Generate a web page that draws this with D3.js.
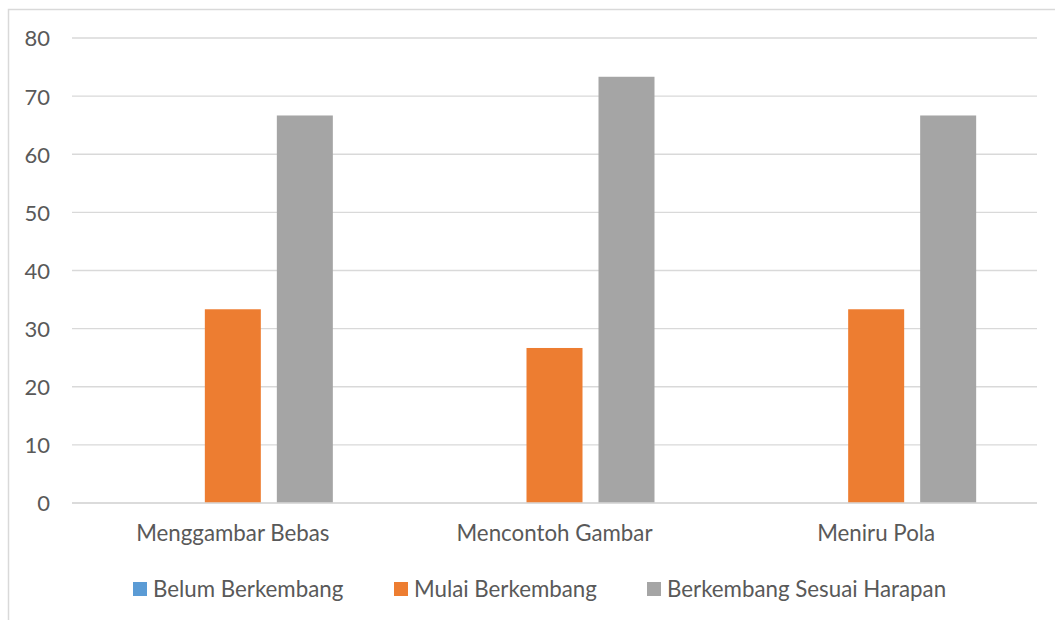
<!DOCTYPE html>
<html><head><meta charset="utf-8">
<script src="https://cdn.jsdelivr.net/npm/d3@7"></script>
<style>
html,body{margin:0;padding:0;background:#fff;}
svg{display:block;}
text{font-family:"Lato","Open Sans",sans-serif;fill:#595959;}
</style></head>
<body><svg id="c" width="1055" height="620"></svg>
<script>
const categories = ["Menggambar Bebas", "Mencontoh Gambar", "Meniru Pola"];
const seriesNames = ["Belum Berkembang", "Mulai Berkembang", "Berkembang Sesuai Harapan"];
const belumBerkembang = [0, 0, 0];
const mulaiBerkembang = [33.33, 26.67, 33.33];
const berkembangSesuaiHarapan = [66.67, 73.33, 66.67];
const yTicks = [0, 10, 20, 30, 40, 50, 60, 70, 80];
const colors = ["#5b9bd5", "#ed7d31", "#a5a5a5"];

const seriesValues = [belumBerkembang, mulaiBerkembang, berkembangSesuaiHarapan];
const svg = d3.select("#c");
const plotLeft = 72, plotRight = 1037, plotTop = 38, plotBottom = 503;

// outer border
svg.append("rect").attr("x", 8.5).attr("y", 9.5).attr("width", 1100).attr("height", 700)
  .attr("fill", "none").attr("stroke", "#d9d9d9").attr("stroke-width", 1.5);

const x0 = d3.scaleBand().domain(categories).range([plotLeft, plotRight]).paddingInner(0).paddingOuter(0);
const y = d3.scaleLinear().domain([0, 80]).range([plotBottom, plotTop]);

// gridlines
svg.append("g").selectAll("line").data(yTicks).join("line")
  .attr("x1", plotLeft).attr("x2", plotRight)
  .attr("y1", d => y(d)).attr("y2", d => y(d))
  .attr("stroke", "#d9d9d9").attr("stroke-width", 1.3);

// y axis labels
const yAxis = d3.axisLeft(y).tickValues(yTicks).tickSize(0).tickPadding(0);
const gy = svg.append("g").attr("transform", `translate(50,0)`).call(yAxis);
gy.select(".domain").remove();
gy.selectAll("text").attr("font-size", 22).style("font-family", "Lato, sans-serif").attr("fill", "#595959").attr("dy", "0.36em");

// bars
const groupWidth = 200;
const x1 = d3.scaleBand().domain(seriesNames).range([0, groupWidth]).paddingInner(16/72).paddingOuter(0);
const g = svg.append("g");
categories.forEach((cat, ci) => {
  const gx0 = x0(cat) + x0.bandwidth() / 2 - groupWidth / 2;
  seriesNames.forEach((s, si) => {
    const v = seriesValues[si][ci];
    g.append("rect")
      .attr("x", gx0 + x1(s))
      .attr("y", y(v))
      .attr("width", x1.bandwidth())
      .attr("height", y(0) - y(v))
      .attr("fill", colors[si]);
  });
});

// baseline
svg.append("line").attr("x1", plotLeft).attr("x2", plotRight).attr("y1", y(0)).attr("y2", y(0))
  .attr("stroke", "#d9d9d9").attr("stroke-width", 1.5);

// x axis labels
const xAxis = d3.axisBottom(x0).tickSize(0).tickPadding(0);
const gxa = svg.append("g").attr("transform", `translate(0,${plotBottom + 30})`).call(xAxis);
gxa.select(".domain").remove();
gxa.selectAll("text").attr("font-size", 22.3).attr("fill", "#595959").attr("dy", "0.36em")
  .style("font-family", "Lato, sans-serif");

// legend
const legendX = [133, 394, 647];
const lg = svg.append("g");
seriesNames.forEach((s, i) => {
  lg.append("rect").attr("x", legendX[i]).attr("y", 582).attr("width", 14).attr("height", 14).attr("fill", colors[i]);
  lg.append("text").attr("x", legendX[i] + 20).attr("y", 589).attr("dy", "0.36em")
    .attr("font-size", 22.3).text(s);
});
</script></body></html>
